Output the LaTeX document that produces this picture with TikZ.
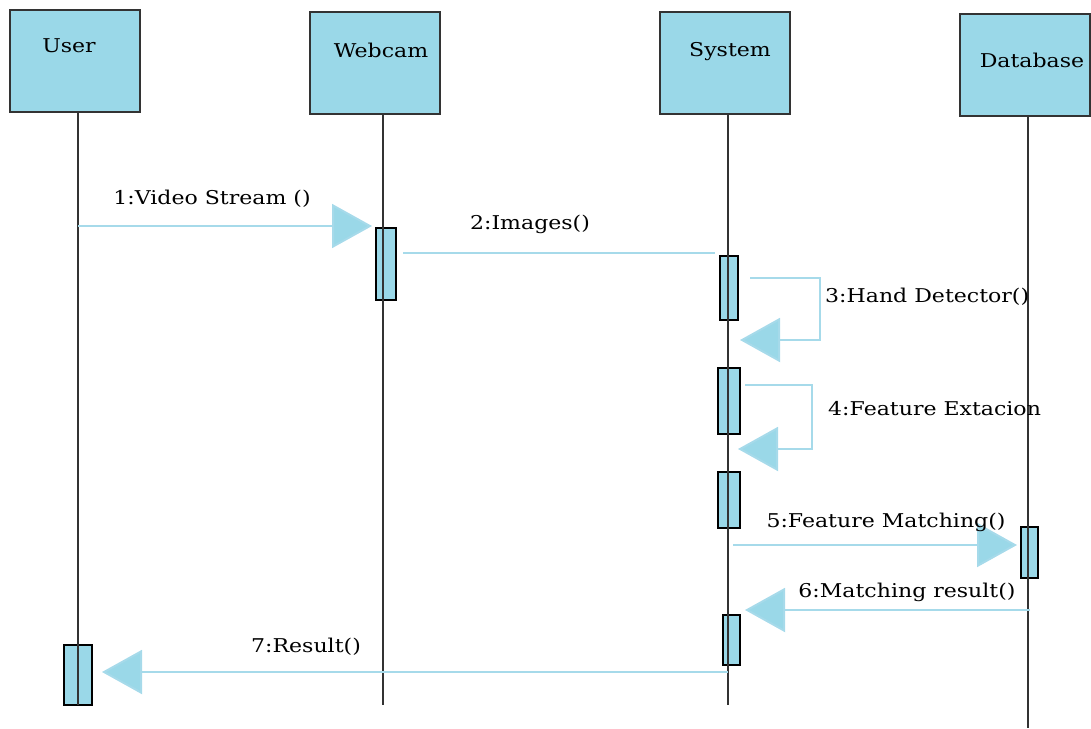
\documentclass[tikz,border=0pt]{standalone}
\usepackage{fontspec}
\setmainfont{DejaVu Serif}[FakeStretch=1.16]
\usetikzlibrary{arrows.meta}
\definecolor{boxfill}{HTML}{9AD8E8}
\definecolor{msgcol}{HTML}{A6DAEA}
\definecolor{lifecol}{HTML}{333333}
\tikzset{
  head/.style={draw=lifecol, line width=2pt, fill=boxfill, minimum width=130pt, minimum height=102pt, inner sep=0pt},
  htext/.style={font=\fontsize{19}{22}\selectfont, inner sep=0pt, text=black},
  act/.style={draw=black, line width=1.5pt, fill=boxfill, inner sep=0pt},
  life/.style={draw=lifecol, line width=2pt},
  msg/.style={draw=msgcol, line width=2pt, -{Triangle[length=40pt,width=44pt,fill=boxfill]}},
  msgline/.style={draw=msgcol, line width=2pt},
  mtext/.style={font=\fontsize{19}{22}\selectfont, inner sep=0pt, text=black}
}
\begin{document}
\begin{tikzpicture}[x=1pt,y=-1pt]
\useasboundingbox (0,0) rectangle (1091,728);
% heads
\node[head] (user) at (75,61) {};
\node[head] (webcam) at (375,63) {};
\node[head] (system) at (725,63) {};
\node[head] (database) at (1025,65) {};
\node[htext] (tuser) at (69,46) {User};
\node[htext] (twebcam) at (381,50) {Webcam};
\node[htext] (tsystem) at (730,52) {System};
\node[htext] (tdatabase) at (1032,60) {Database};
% activations
\node[act, minimum width=20pt, minimum height=72pt] (wa) at (386,264) {};
\node[act, minimum width=18pt, minimum height=64pt] (sa1) at (729,288) {};
\node[act, minimum width=22pt, minimum height=66pt] (sa2) at (729,401) {};
\node[act, minimum width=22pt, minimum height=56pt] (sa3) at (729,500) {};
\node[act, minimum width=17pt, minimum height=50pt] (sa4) at (731.5,640) {};
\node[act, minimum width=17pt, minimum height=51pt] (da) at (1029.5,552.5) {};
\node[act, minimum width=28pt, minimum height=60pt] (ua) at (78,675) {};
% lifelines
\coordinate (uT) at (78,112); \coordinate (uB) at (78,705);
\coordinate (wT) at (383,114); \coordinate (wB) at (383,705);
\coordinate (sT) at (728,114); \coordinate (sB) at (728,705);
\coordinate (dT) at (1028,116); \coordinate (dB) at (1028,728);
\draw[life] (uT) -- (uB);
\draw[life] (wT) -- (wB);
\draw[life] (sT) -- (sB);
\draw[life] (dT) -- (dB);
% message endpoints
\coordinate (m1s) at (78,226); \coordinate (m1e) at (372,226);
\coordinate (m2s) at (403,253); \coordinate (m2e) at (715,253);
\coordinate (m3s) at (750,278); \coordinate (m3a) at (820,278); \coordinate (m3b) at (820,340); \coordinate (m3e) at (740,340);
\coordinate (m4s) at (745,385); \coordinate (m4a) at (812,385); \coordinate (m4b) at (812,449); \coordinate (m4e) at (738,449);
\coordinate (m5s) at (733,545); \coordinate (m5e) at (1017,545);
\coordinate (m6s) at (1030,610); \coordinate (m6e) at (745,610);
\coordinate (m7s) at (728,672); \coordinate (m7e) at (102,672);
\draw[msg] (m1s) -- (m1e);
\draw[msgline] (m2s) -- (m2e);
\draw[msg] (m3s) -- (m3a) -- (m3b) -- (m3e);
\draw[msg] (m4s) -- (m4a) -- (m4b) -- (m4e);
\draw[msg] (m5s) -- (m5e);
\draw[msg] (m6s) -- (m6e);
\draw[msg] (m7s) -- (m7e);
% labels
\node[mtext] (l1) at (212,199) {1:Video Stream ()};
\node[mtext] (l2) at (530,224) {2:Images()};
\node[mtext, anchor=west] (l3) at (825,297) {3:Hand Detector()};
\node[mtext, anchor=west] (l4) at (828,409) {4:Feature Extacion};
\node[mtext] (l5) at (886,522) {5:Feature Matching()};
\node[mtext] (l6) at (907,592) {6:Matching result()};
\node[mtext] (l7) at (306,647) {7:Result()};
\end{tikzpicture}
\end{document}
